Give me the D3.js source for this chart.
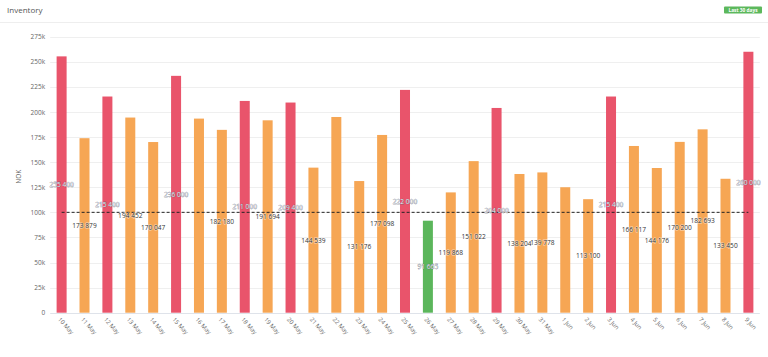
<!DOCTYPE html>
<html><head><meta charset="utf-8">
<script src="https://cdn.jsdelivr.net/npm/d3@7"></script>
<style>
html,body{margin:0;padding:0;background:#fff;}
svg{display:block;font-family:"Open Sans","Noto Sans",sans-serif;}
</style></head>
<body><svg id="c" width="768" height="357"></svg>
<script>
const dates = ["10 May","11 May","12 May","13 May","14 May","15 May","16 May","17 May","18 May","19 May","20 May","21 May","22 May","23 May","24 May","25 May","26 May","27 May","28 May","29 May","30 May","31 May","1 Jun","2 Jun","3 Jun","4 Jun","5 Jun","6 Jun","7 Jun","8 Jun","9 Jun"];
const values = [255400,173879,215400,194452,170047,236000,193400,182180,211000,191694,209400,144539,195000,131176,177098,222000,91665,119868,151022,204000,138204,139778,125000,113100,215400,166117,144176,170200,182693,133450,260000];
const showLabel = [1,1,1,1,1,1,0,1,1,1,1,1,0,1,1,1,1,1,1,1,1,1,0,1,1,1,1,1,1,1,1];
const yTicks = [0,25000,50000,75000,100000,125000,150000,175000,200000,225000,250000,275000];
const threshold = 100000;
const title = "Inventory";
const badge = "Last 30 days";
const yTitle = "NOK";

const svg = d3.select("#c");
const pLeft = 50.2, pRight = 759.8, pTop = 36.7, pBottom = 312.7;

const x = d3.scaleBand().domain(dates).range([pLeft, pRight]).paddingInner(0.563).paddingOuter(0.28);
const y = d3.scaleLinear().domain([0, 275000]).range([pBottom, pTop]);
const color = v => v >= 200000 ? "#e9546b" : (v >= threshold ? "#f6a654" : "#5bb65b");

// header
svg.append("text").attr("x", 7).attr("y", 13).attr("font-size", 8).attr("fill", "#555").text(title);
svg.append("line").attr("x1", 0).attr("x2", 768).attr("y1", 22.5).attr("y2", 22.5).attr("stroke", "#eee");
svg.append("rect").attr("x", 724).attr("y", 6.5).attr("width", 38).attr("height", 7).attr("rx", 1).attr("fill", "#5cb85c");
svg.append("text").attr("x", 743).attr("y", 11.8).attr("text-anchor", "middle").attr("font-size", 4.8).attr("font-weight", "bold").attr("fill", "#fff").text(badge);

// grid
svg.append("g").selectAll("line").data(yTicks).join("line")
  .attr("x1", pLeft).attr("x2", pRight)
  .attr("y1", d => Math.round(y(d)) + 0.5).attr("y2", d => Math.round(y(d)) + 0.5)
  .attr("stroke", d => d === 0 ? "#dfe3ea" : "#efefef").attr("stroke-width", 1);

// y axis
const yAxis = d3.axisLeft(y).tickValues(yTicks).tickSize(0).tickPadding(0)
  .tickFormat(d => d === 0 ? "0" : (d / 1000) + "k");
const ya = svg.append("g").attr("transform", `translate(${pLeft - 5},0)`).call(yAxis);
ya.select(".domain").remove();
ya.selectAll("text").attr("font-size", 6.5).attr("fill", "#666").attr("font-family", "Open Sans, Noto Sans, sans-serif");

svg.append("text").attr("transform", `translate(21,${(pTop + pBottom) / 2 + 2}) rotate(-90)`)
  .attr("text-anchor", "middle").attr("font-size", 6.5).attr("fill", "#666").text(yTitle);

// x axis
const xAxis = d3.axisBottom(x).tickSize(0).tickPadding(0);
const xa = svg.append("g").attr("transform", `translate(0,${pBottom})`).call(xAxis);
xa.select(".domain").remove();
xa.selectAll("text").attr("font-size", 6).attr("fill", "#666")
  .attr("font-family", "Open Sans, Noto Sans, sans-serif")
  .attr("text-anchor", "start").attr("dy", 0)
  .attr("transform", "translate(-4,7) rotate(48)");

// bars
svg.append("g").selectAll("rect").data(values).join("rect")
  .attr("x", (d, i) => x(dates[i])).attr("width", x.bandwidth())
  .attr("y", d => y(d)).attr("height", d => pBottom - y(d))
  .attr("fill", d => color(d));

// threshold line
svg.append("line")
  .attr("x1", x(dates[0]) + x.bandwidth() / 2).attr("x2", x(dates[dates.length - 1]) + x.bandwidth() / 2)
  .attr("y1", y(threshold)).attr("y2", y(threshold))
  .attr("stroke", "#222").attr("stroke-width", 1).attr("stroke-dasharray", "3,2");

// labels
const fmt = v => d3.format(",")(v).replace(/,/g, " ");
const lg = svg.append("g");
values.forEach((v, i) => {
  if (!showLabel[i]) return;
  const light = v >= 200000 || v < threshold;
  const t = lg.append("text")
    .attr("x", x(dates[i]) + x.bandwidth() / 2).attr("y", y(v / 2) + 2.4)
    .attr("text-anchor", "middle").attr("font-size", 6.6).text(fmt(v));
  if (light) {
    t.attr("fill", "#f2f3f7").attr("stroke", "#4a5266").attr("stroke-width", 0.35).attr("paint-order", "stroke");
  } else {
    t.attr("fill", "#333").attr("stroke", "#fff").attr("stroke-width", 1.2).attr("paint-order", "stroke").attr("stroke-opacity", 0.6);
  }
});
</script></body></html>
